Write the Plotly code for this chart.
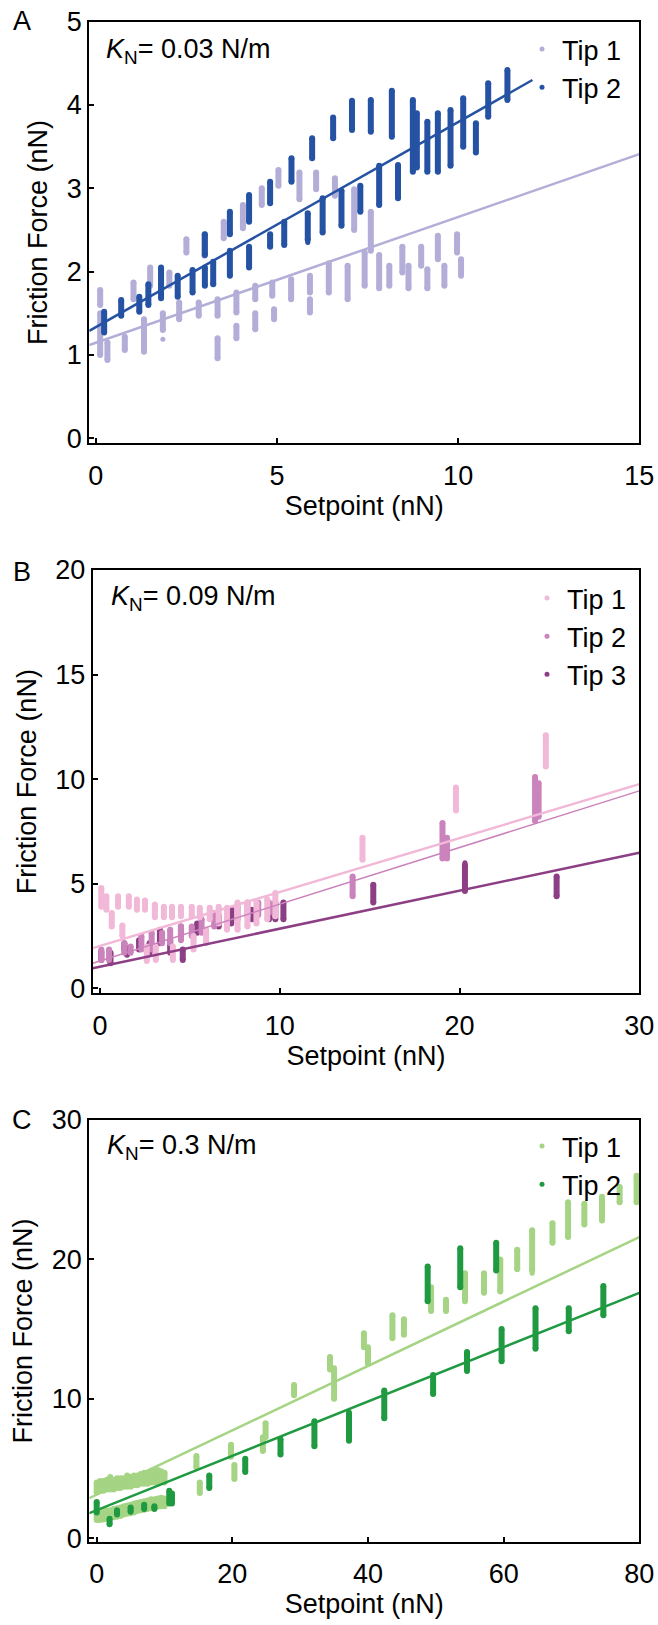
import plotly.graph_objects as go

W, H = 658, 1625
FONT = "Arial, Liberation Sans, Helvetica, sans-serif"

# ---------------- Panel A  (K_N = 0.03 N/m) ----------------
A_tip1_x  = [0.12, 0.12, 0.32, 0.8, 1.04, 1.33, 1.5, 1.85, 2.03, 2.3, 2.5, 2.84, 3.0, 3.36, 3.36, 3.53, 3.88, 3.88,
             4.06, 4.4, 4.4, 4.58, 4.87, 4.92, 5.04, 5.39, 5.62, 5.91, 5.91, 6.08, 6.43, 6.6, 6.95, 7.13, 7.42, 7.59,
             7.82, 8.1, 8.46, 8.63, 8.98, 9.15, 9.44, 9.62, 9.97, 10.08]
A_tip1_lo = [1.0, 1.6, 0.94, 1.06, 1.67, 1.04, 1.83, 1.3, 1.83, 1.43, 2.23, 1.47, 2.19, 0.96, 1.47, 2.4, 1.2, 1.51,
             2.52, 1.31, 1.67, 2.8, 1.71, 1.43, 3.03, 1.67, 2.87, 1.51, 1.75, 2.99, 1.75, 2.91, 1.67, 2.5, 1.83, 2.25,
             1.8, 1.83, 1.99, 1.8, 2.07, 1.8, 2.15, 1.83, 2.23, 1.95]
A_tip1_hi = [1.5, 1.78, 1.15, 1.22, 1.87, 1.43, 2.05, 1.5, 1.99, 1.63, 2.39, 1.63, 2.45, 1.2, 1.67, 2.6, 1.35, 1.75,
             2.8, 1.5, 1.83, 3.0, 1.87, 1.55, 3.22, 1.91, 3.19, 1.67, 1.95, 3.19, 2.1, 3.12, 2.07, 2.99, 2.23, 2.72,
             2.2, 2.07, 2.3, 2.07, 2.3, 2.03, 2.43, 2.07, 2.45, 2.15]
A_tip1_pt_x = [1.85]
A_tip1_pt_y = [1.19]

A_tip2_x  = [0.23, 0.7, 1.2, 1.45, 1.8, 2.26, 2.67, 3.01, 3.24, 3.7, 4.23, 4.81, 5.2, 5.85, 6.26, 6.78, 7.3, 7.82,
             8.34, 8.75, 8.86, 9.15, 9.44, 9.79, 10.14, 10.49, 10.83, 11.36,
             3.01, 3.7, 4.23, 4.81, 5.4, 5.97, 6.55, 7.07, 7.59, 8.17]
A_tip2_lo = [1.27, 1.47, 1.52, 1.6, 1.68, 1.7, 1.75, 1.83, 1.85, 1.95, 2.05, 2.3, 2.32, 2.38, 2.47, 2.55, 2.72, 2.8,
             2.88, 3.2, 3.25, 3.2, 3.2, 3.27, 3.5, 3.43, 3.86, 4.06,
             2.2, 2.45, 2.6, 2.82, 3.08, 3.36, 3.6, 3.7, 3.68, 3.62]
A_tip2_hi = [1.52, 1.66, 1.7, 1.85, 2.05, 1.95, 2.02, 2.05, 2.12, 2.25, 2.3, 2.45, 2.6, 2.7, 2.88, 2.97, 3.03, 3.27,
             3.28, 4.06, 3.9, 3.8, 3.9, 3.94, 4.08, 3.78, 4.26, 4.42,
             2.45, 2.72, 2.92, 3.08, 3.36, 3.6, 3.85, 4.05, 4.06, 4.17]
A_tip2_pt_x = [5.85]
A_tip2_pt_y = [2.35]

A_fit1_x, A_fit1_y = [-0.18, 15.0], [1.12, 3.41]
A_fit2_x, A_fit2_y = [-0.18, 12.05], [1.29, 4.30]

# ---------------- Panel B  (K_N = 0.09 N/m) ----------------
B_tip1_x  = [0.07, 0.35, 0.65, 1.0, 1.24, 1.6, 2.05, 2.5, 2.6, 3.05, 3.1, 3.55, 4.0, 4.05, 4.5, 5.1, 5.2, 5.55,
             5.9, 6.1, 6.6, 7.06, 7.65, 8.2, 8.7, 9.3, 9.75, 14.6, 19.8, 24.8]
B_tip1_lo = [3.9, 3.75, 2.95, 3.9, 2.5, 3.9, 3.75, 3.75, 1.3, 3.4, 1.35, 3.4, 3.4, 1.35, 3.45, 3.45, 1.85, 3.4,
             2.15, 3.3, 3.1, 2.8, 2.8, 2.95, 3.1, 3.3, 3.45, 6.15, 8.5, 10.6]
B_tip1_hi = [4.8, 4.4, 3.6, 4.4, 3.0, 4.4, 4.25, 4.2, 2.0, 4.0, 2.0, 3.9, 3.9, 2.0, 3.9, 3.9, 2.5, 3.85,
             2.8, 3.85, 3.9, 3.85, 4.1, 4.1, 4.1, 4.25, 4.55, 7.2, 9.6, 12.1]
B_tip1_pt_x = [24.8]
B_tip1_pt_y = [12.1]

B_tip2_x  = [0.07, 0.5, 1.35, 1.7, 2.3, 2.87, 3.45, 3.9, 4.5, 5.1, 5.65, 6.35, 7.06, 7.65, 8.2, 8.8, 9.4,
             14.05, 19.05, 19.3, 24.2, 24.4]
B_tip2_lo = [1.35, 1.35, 1.7, 1.7, 1.85, 1.85, 2.15, 2.15, 2.3, 2.5, 2.65, 2.95, 3.3, 3.3, 3.45, 3.5, 3.6,
             4.4, 6.2, 6.2, 8.0, 8.2]
B_tip2_hi = [1.85, 1.85, 2.15, 2.0, 2.5, 2.65, 2.65, 2.8, 2.95, 2.95, 3.3, 3.6, 3.75, 3.9, 4.1, 4.1, 4.1,
             5.35, 7.9, 7.2, 10.1, 9.8]
B_tip2_pt_x = [24.2]
B_tip2_pt_y = [10.1]

B_tip3_x  = [0.07, 0.58, 1.35, 1.5, 2.17, 2.75, 3.33, 3.9, 4.5, 4.6, 5.4, 6.6, 7.3, 8.45, 9.4, 9.75, 10.2,
             15.2, 20.3, 25.4]
B_tip3_lo = [1.35, 1.2, 1.85, 1.6, 1.85, 1.7, 2.15, 1.7, 2.5, 1.35, 2.65, 2.95, 3.1, 3.3, 3.3, 3.3, 3.3,
             4.1, 4.65, 4.4]
B_tip3_hi = [1.75, 1.7, 2.15, 1.9, 2.3, 2.15, 2.8, 2.3, 2.95, 1.85, 3.1, 3.45, 3.75, 3.75, 3.75, 4.1, 4.1,
             4.95, 5.9, 5.35]
B_tip3_pt_x = [20.3]
B_tip3_pt_y = [6.0]

B_fit1_x, B_fit1_y = [-0.41, 30.0], [1.92, 9.76]
B_fit2_x, B_fit2_y = [-0.41, 30.0], [1.20, 9.44]
B_fit3_x, B_fit3_y = [-0.41, 30.0], [0.96, 6.48]

# ---------------- Panel C  (K_N = 0.3 N/m) ----------------
C_tip1_x  = [0, 0.5, 1, 1.5, 2, 2.5, 3, 3.5, 4, 4.5, 5, 5.5, 6, 6.5, 7, 7.5, 8, 8.5, 9, 9.5, 10,
             0, 0.5, 1, 1.5, 2, 2.5, 3, 3.5, 4, 4.5, 5, 5.5, 6, 6.5, 7, 7.5, 8, 8.5, 9, 9.5, 10,
             14.7, 15.2, 19.8, 20.3, 24.5, 24.9, 29.1, 34.4, 35.0, 39.4, 40.0, 43.6, 45.3, 49.3, 51.5,
             54.3, 57.1, 59.5, 62.0, 64.2, 67.2, 69.5, 71.9, 74.5, 77.1, 79.6]
C_tip1_lo = [3.3, 3.4, 3.4, 3.5, 3.5, 3.5, 3.6, 3.6, 3.7, 3.7, 3.7, 3.8, 3.8, 3.9, 3.9, 3.9, 4.0, 4.0, 4.0, 4.1, 4.0,
             1.3, 1.3, 1.35, 1.4, 1.45, 1.5, 1.55, 1.6, 1.7, 1.75, 1.8, 1.85, 1.95, 2.0, 2.05, 2.1, 2.15, 2.2, 2.25, 2.3, 2.3,
             5.1, 3.25, 5.85, 4.25, 6.25, 7.25, 10.25, 12.1, 10.0, 13.7, 12.5, 14.35, 14.6, 16.3, 16.3,
             17.0, 17.6, 17.7, 19.3, 19.2, 21.2, 21.6, 22.5, 22.8, 24.1, 24.1]
C_tip1_hi = [4.0, 4.1, 4.1, 4.2, 4.4, 4.2, 4.3, 4.3, 4.3, 4.5, 4.4, 4.5, 4.5, 4.6, 4.7, 4.6, 4.8, 4.9, 4.9, 4.8, 4.7,
             1.9, 1.9, 2.0, 2.0, 2.0, 2.1, 2.15, 2.2, 2.3, 2.35, 2.4, 2.5, 2.55, 2.6, 2.65, 2.7, 2.8, 2.8, 2.85, 2.9, 2.85,
             5.9, 4.0, 6.7, 5.25, 7.25, 8.25, 11.0, 13.0, 12.2, 14.7, 13.7, 16.0, 15.7, 18.0, 17.1,
             19.0, 19.0, 20.0, 20.7, 22.1, 22.6, 24.1, 24.0, 24.5, 25.2, 26.0]
C_tip1_pt_x = [64.2]
C_tip1_pt_y = [19.0]

C_tip2_x  = [0.0, 1.9, 3.0, 5.0, 7.0, 8.5, 10.7, 11.1, 16.6, 21.9, 27.1, 32.1, 37.2, 42.4, 48.8, 49.6, 53.6,
             54.6, 58.9, 59.7, 64.7, 69.6, 74.7]
C_tip2_lo = [1.85, 1.0, 1.7, 1.9, 2.1, 2.1, 2.5, 2.5, 3.6, 4.75, 6.0, 6.6, 7.0, 8.6, 17.0, 10.35, 18.0,
             12.0, 19.2, 12.7, 13.6, 14.85, 16.0]
C_tip2_hi = [2.6, 1.4, 2.0, 2.2, 2.4, 2.3, 3.4, 3.2, 4.5, 5.7, 7.1, 8.4, 9.0, 10.6, 19.5, 11.7, 20.8,
             13.35, 21.2, 15.0, 16.5, 16.5, 18.1]
C_tip2_pt_x = [42.4]
C_tip2_pt_y = [8.6]

C_fit1_x, C_fit1_y = [-1.09, 80.0], [2.87, 21.6]
C_fit2_x, C_fit2_y = [-1.09, 80.0], [1.80, 17.6]

# ---------------- styling ----------------
COL = {
    "A1": "#b3aed8", "A2": "#2552a3",
    "B1": "#f1b8d7", "B2": "#cb83bc", "B3": "#8d3f85",
    "C1": "#a5d484", "C2": "#1f9a40",
}
SW = 6  # streak width (px)

fig = go.Figure()


def streaks(x, lo, hi, color, xa, ya, width=SW):
    xs, ys = [], []
    for xi, a, b in zip(x, lo, hi):
        xs += [xi, xi, None]
        ys += [a, b, None]
    fig.add_trace(go.Scatter(x=xs, y=ys, mode="lines+markers", xaxis=xa, yaxis=ya,
                             line=dict(color=color, width=width),
                             marker=dict(color=color, size=width),
                             showlegend=False, hoverinfo="skip"))


def points(x, y, color, xa, ya, name, legend):
    fig.add_trace(go.Scatter(x=x, y=y, mode="markers", xaxis=xa, yaxis=ya, name=name,
                             marker=dict(color=color, size=5), legend=legend,
                             showlegend=True, hoverinfo="skip"))


def fit(x, y, color, xa, ya, width=2.5):
    fig.add_trace(go.Scatter(x=x, y=y, mode="lines", xaxis=xa, yaxis=ya,
                             line=dict(color=color, width=width),
                             showlegend=False, hoverinfo="skip"))


# Panel A
streaks(A_tip1_x, A_tip1_lo, A_tip1_hi, COL["A1"], "x", "y")
points(A_tip1_pt_x, A_tip1_pt_y, COL["A1"], "x", "y", "Tip 1", "legend")
streaks(A_tip2_x, A_tip2_lo, A_tip2_hi, COL["A2"], "x", "y")
points(A_tip2_pt_x, A_tip2_pt_y, COL["A2"], "x", "y", "Tip 2", "legend")
fit(A_fit1_x, A_fit1_y, COL["A1"], "x", "y")
fit(A_fit2_x, A_fit2_y, COL["A2"], "x", "y")

# Panel B
streaks(B_tip3_x, B_tip3_lo, B_tip3_hi, COL["B3"], "x2", "y2")
streaks(B_tip2_x, B_tip2_lo, B_tip2_hi, COL["B2"], "x2", "y2")
streaks(B_tip1_x, B_tip1_lo, B_tip1_hi, COL["B1"], "x2", "y2")
points(B_tip1_pt_x, B_tip1_pt_y, COL["B1"], "x2", "y2", "Tip 1", "legend2")
points(B_tip2_pt_x, B_tip2_pt_y, COL["B2"], "x2", "y2", "Tip 2", "legend2")
points(B_tip3_pt_x, B_tip3_pt_y, COL["B3"], "x2", "y2", "Tip 3", "legend2")
fit(B_fit1_x, B_fit1_y, COL["B1"], "x2", "y2", 2.5)
fit(B_fit2_x, B_fit2_y, COL["B2"], "x2", "y2", 1.5)
fit(B_fit3_x, B_fit3_y, COL["B3"], "x2", "y2", 2.5)

# Panel C
streaks(C_tip1_x, C_tip1_lo, C_tip1_hi, COL["C1"], "x3", "y3")
points(C_tip1_pt_x, C_tip1_pt_y, COL["C1"], "x3", "y3", "Tip 1", "legend3")
streaks(C_tip2_x, C_tip2_lo, C_tip2_hi, COL["C2"], "x3", "y3")
points(C_tip2_pt_x, C_tip2_pt_y, COL["C2"], "x3", "y3", "Tip 2", "legend3")
fit(C_fit1_x, C_fit1_y, COL["C1"], "x3", "y3")
fit(C_fit2_x, C_fit2_y, COL["C2"], "x3", "y3")


def px_x(v):
    return v / W


def px_y(v):
    return 1 - v / H


TICK_FS, TITLE_FS, TEXT_FS = 27, 27, 27

axis_common = dict(showline=True, linecolor="black", linewidth=2, mirror=True,
                   ticks="inside", ticklen=5, tickwidth=1.5, tickcolor="black",
                   showgrid=False, zeroline=False, automargin=False,
                   tickfont=dict(family=FONT, size=TICK_FS, color="black"),
                   title_font=dict(family=FONT, size=TITLE_FS, color="black"))

panels = [
    # (suffix, xdomain px, ydomain px (top, bottom), xrange, yrange, xticks, yticks)
    ("", (89.3, 639.3), (21.7, 443.3), [-0.18, 15], [-0.06, 5], [0, 5, 10, 15], [0, 1, 2, 3, 4, 5]),
    ("2", (92.7, 639.3), (570.0, 993.3), [-0.41, 30], [-0.24, 20], [0, 10, 20, 30], [0, 5, 10, 15, 20]),
    ("3", (89.3, 639.3), (1120.0, 1542.0), [-1.09, 80], [-0.27, 30], [0, 20, 40, 60, 80], [0, 10, 20, 30]),
]

layout = dict(width=W, height=H, margin=dict(l=0, r=0, t=0, b=0),
              paper_bgcolor="white", plot_bgcolor="white",
              font=dict(family=FONT, size=TEXT_FS, color="black"))

for s, (x0, x1), (yt, yb), xr, yr, xt, yt_vals in panels:
    layout["xaxis" + s] = dict(axis_common, domain=[px_x(x0), px_x(x1)], range=xr,
                               tickvals=xt, anchor="y" + s,
                               title=dict(text="Setpoint (nN)", standoff=0),
                               ticklabelstandoff=7)
    layout["yaxis" + s] = dict(axis_common, domain=[px_y(yb), px_y(yt)], range=yr,
                               tickvals=yt_vals, anchor="x" + s,
                               title=dict(text="Friction Force (nN)", standoff=11),
                               ticklabelstandoff=0)

leg_common = dict(font=dict(family=FONT, size=TEXT_FS, color="black"), bgcolor="rgba(0,0,0,0)",
                  xanchor="left", yanchor="top", itemwidth=30, tracegroupgap=0,
                  itemclick=False, itemdoubleclick=False)
layout["legend"] = dict(leg_common, x=px_x(522), y=px_y(25))
layout["legend2"] = dict(leg_common, x=px_x(527), y=px_y(574))
layout["legend3"] = dict(leg_common, x=px_x(522), y=px_y(1122))

ann = []
for letter, yc in [("A", 21), ("B", 572), ("C", 1120)]:
    ann.append(dict(text=letter, x=px_x(22), y=px_y(yc), xref="paper", yref="paper",
                    xanchor="center", yanchor="middle", showarrow=False,
                    font=dict(family=FONT, size=TEXT_FS, color="black")))
for txt, xl, yc in [("0.03", 104, 51), ("0.09", 109, 598), ("0.3", 105, 1147)]:
    ann.append(dict(text="<i>K</i><sub>N</sub>= " + txt + " N/m", x=px_x(xl), y=px_y(yc),
                    xref="paper", yref="paper", xanchor="left", yanchor="middle",
                    showarrow=False, font=dict(family=FONT, size=TEXT_FS, color="black")))
layout["annotations"] = ann

fig.update_layout(layout)
fig.write_html("out.html", config={"displayModeBar": False},
               post_script="document.body.style.margin='0';document.body.style.overflow='hidden';")
